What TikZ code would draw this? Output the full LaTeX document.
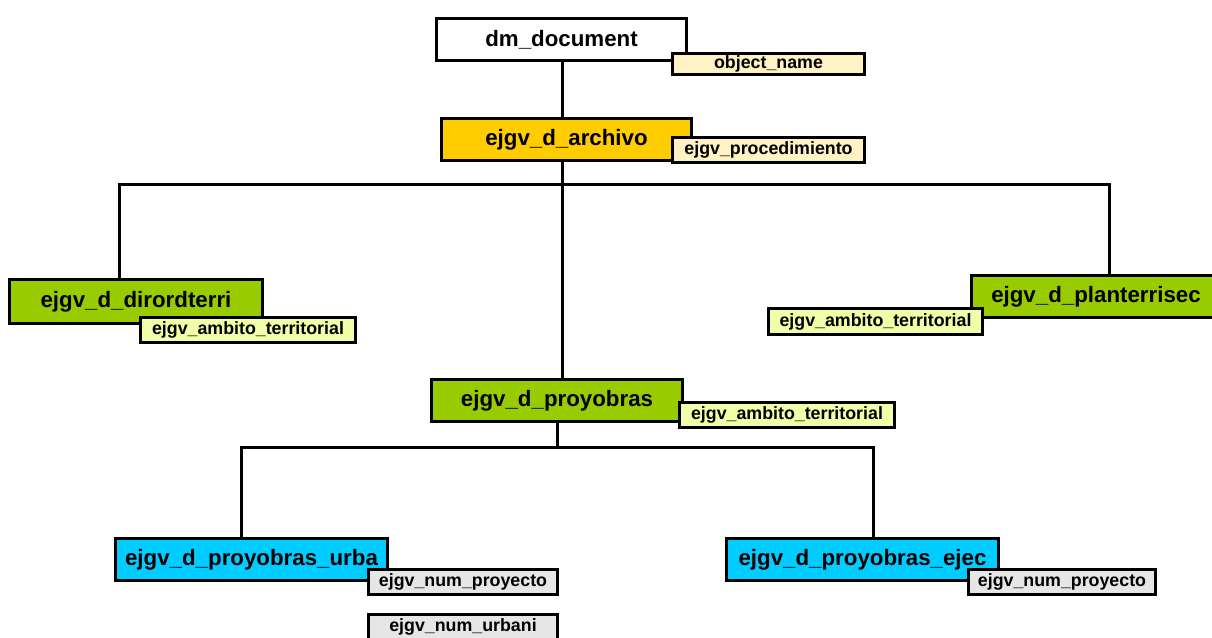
\documentclass[tikz,border=0pt]{standalone}
\usepackage{fontspec}
\setmainfont{Liberation Sans}
\definecolor{archgold}{HTML}{FFCC00}
\definecolor{leafgreen}{HTML}{99CC00}
\definecolor{subcyan}{HTML}{00CCFF}
\definecolor{attrcream}{HTML}{FFF2C4}
\definecolor{attrlime}{HTML}{F0FFA8}
\definecolor{attrgray}{HTML}{E6E6E6}
\begin{document}
\begin{tikzpicture}[x=1pt,y=-1pt,
  entity/.style={draw=black, line width=3.3pt, inner sep=0pt, text=black,
    font=\fontsize{22.3}{26}\selectfont\bfseries},
  attr/.style={draw=black, line width=3.3pt, inner sep=0pt, text=black,
    font=\fontsize{17.8}{21}\selectfont\bfseries},
  link/.style={draw=black, line width=3pt}]
\useasboundingbox (0,0) rectangle (1212,637);
\fill[white] (0,0) rectangle (1212,637);

% main object types
\node[entity, fill=white, minimum width=250, minimum height=42] (doc) at (561.5,39.5) {dm\_document};
\node[entity, fill=archgold, minimum width=250, minimum height=42] (arch) at (566.5,139.5) {ejgv\_d\_archivo};
\node[entity, fill=leafgreen, minimum width=253, minimum height=44] (dir) at (136,301.5) {ejgv\_d\_dirordterri};
\node[entity, fill=leafgreen, minimum width=249, minimum height=42] (plan) at (1096,296.5) {ejgv\_d\_planterrisec};
\node[entity, fill=leafgreen, minimum width=251, minimum height=42] (prj) at (557,400.5) {ejgv\_d\_proyobras};
\node[entity, fill=subcyan, minimum width=272, minimum height=42] (urba) at (251.5,559.5) {ejgv\_d\_proyobras\_urba};
\node[entity, fill=subcyan, minimum width=272, minimum height=42] (ejec) at (862.5,559.5) {ejgv\_d\_proyobras\_ejec};

% hierarchy connectors
\coordinate (jA) at (562,184);
\coordinate (jAL) at (119,184);
\coordinate (jAR) at (1109,184);
\coordinate (jB) at (557,447);
\coordinate (jBL) at (241,447);
\coordinate (jBR) at (873,447);
\draw[link] (doc.south -| jA) -- (arch.north -| jA);
\draw[link] (arch.south -| jA) -- (jA |- prj.north);
\draw[link] (jAL |- dir.north) -- (jAL) -- (jAR) -- (jAR |- plan.north);
\draw[link] (prj.south) -- (jB);
\draw[link] (jBL |- urba.north) -- (jBL) -- (jBR) -- (jBR |- ejec.north);

% attribute tags
\node[attr, fill=attrcream, minimum width=192, minimum height=21] (a1) at (768.5,64) {object\_name};
\node[attr, fill=attrcream, minimum width=192, minimum height=25] (a2) at (768.5,150) {ejgv\_procedimiento};
\node[attr, fill=attrlime, minimum width=215, minimum height=25] (a3) at (248,330) {ejgv\_ambito\_territorial};
\node[attr, fill=attrlime, minimum width=214, minimum height=26] (a4) at (875.5,321.5) {ejgv\_ambito\_territorial};
\node[attr, fill=attrlime, minimum width=215, minimum height=25] (a5) at (787,415) {ejgv\_ambito\_territorial};
\node[attr, fill=attrgray, minimum width=189, minimum height=25] (a6) at (463,582) {ejgv\_num\_proyecto};
\node[attr, fill=attrgray, minimum width=189, minimum height=25] (a7) at (463,627) {ejgv\_num\_urbani};
\node[attr, fill=attrgray, minimum width=187, minimum height=25] (a8) at (1062,582) {ejgv\_num\_proyecto};
\end{tikzpicture}
\end{document}
